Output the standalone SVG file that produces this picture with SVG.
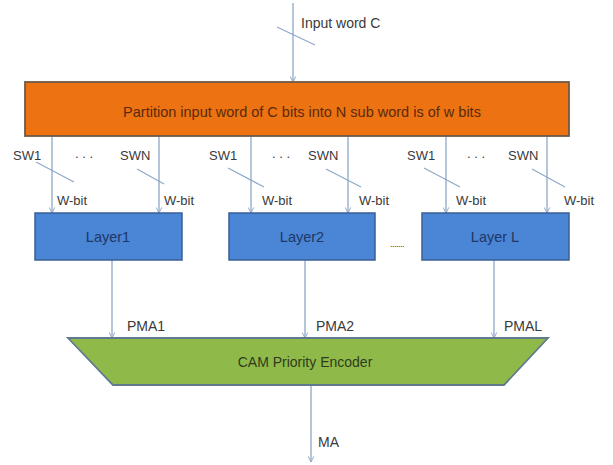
<svg xmlns="http://www.w3.org/2000/svg" width="613" height="465" viewBox="0 0 613 465">
<defs>
<marker id="ah" viewBox="0 0 10 10" refX="9" refY="5" markerWidth="7" markerHeight="7" orient="auto" markerUnits="userSpaceOnUse">
<path d="M1,1 L9,5 L1,9" fill="none" stroke="#8fa8c6" stroke-width="1.4"/>
</marker>
<style>
text{font-family:"Liberation Sans","Open Sans",Arial,sans-serif;font-size:13px;fill:#3a3a3a}
.big{font-size:14px}
.ln{stroke:#8fa8c6;stroke-width:1.3;fill:none}
.sl{stroke:#8fa8c6;stroke-width:1.2;fill:none}
.layer{fill:#4a85d6;stroke:#3a5f94;stroke-width:1.5}
.lt{fill:#1f3864;font-size:14.5px;text-anchor:middle}
</style>
</defs>
<rect width="613" height="465" fill="#ffffff"/>
<g id="connectors">
<line class="ln" x1="293" y1="3" x2="293" y2="82" marker-end="url(#ah)"/>
<line class="sl" x1="277" y1="27" x2="315" y2="45"/>
<line class="ln" x1="52" y1="136" x2="52" y2="213" marker-end="url(#ah)"/>
<line class="ln" x1="159" y1="136" x2="159" y2="213" marker-end="url(#ah)"/>
<line class="ln" x1="251" y1="136" x2="251" y2="213" marker-end="url(#ah)"/>
<line class="ln" x1="348" y1="136" x2="348" y2="213" marker-end="url(#ah)"/>
<line class="ln" x1="446" y1="136" x2="446" y2="213" marker-end="url(#ah)"/>
<line class="ln" x1="547" y1="136" x2="547" y2="213" marker-end="url(#ah)"/>
<line class="sl" x1="36" y1="162" x2="74" y2="182"/>
<line class="sl" x1="137" y1="169" x2="164" y2="184"/>
<line class="sl" x1="228" y1="168" x2="264" y2="187"/>
<line class="sl" x1="326" y1="169" x2="361" y2="187"/>
<line class="sl" x1="424" y1="168" x2="460" y2="187"/>
<line class="sl" x1="532" y1="169" x2="565" y2="187"/>
<line class="ln" x1="112" y1="260" x2="112" y2="338" marker-end="url(#ah)"/>
<line class="ln" x1="305" y1="260" x2="305" y2="338" marker-end="url(#ah)"/>
<line class="ln" x1="494" y1="260" x2="494" y2="338" marker-end="url(#ah)"/>
<line class="ln" x1="311" y1="385" x2="311" y2="462" marker-end="url(#ah)"/>
</g>
<g id="partition">
<rect x="25" y="82" width="544" height="54" fill="#ec7212" stroke="#6e5a4a" stroke-width="1.8"/>
<text x="302" y="117" text-anchor="middle" style="fill:#5a2a0a;font-size:14.5px">Partition input word of C bits into N sub word is of w bits</text>
</g>
<g id="labels">
<text class="big" x="301" y="28">Input word C</text>
<text x="13" y="160">SW1</text><text x="75" y="158">. . .</text><text x="120" y="160">SWN</text>
<text x="57" y="205">W-bit</text><text x="164" y="205">W-bit</text>
<text x="209" y="160">SW1</text><text x="272" y="158">. . .</text><text x="308" y="160">SWN</text>
<text x="262" y="205">W-bit</text><text x="359" y="205">W-bit</text>
<text x="407" y="160">SW1</text><text x="467" y="158">. . .</text><text x="508" y="160">SWN</text>
<text x="456" y="205">W-bit</text><text x="564" y="205">W-bit</text>
<text x="390" y="247" style="font-size:9px;letter-spacing:-0.5px">.......</text>
<text class="big" x="127" y="331">PMA1</text>
<text class="big" x="316" y="331">PMA2</text>
<text class="big" x="504" y="331">PMAL</text>
<text class="big" x="318" y="447">MA</text>
</g>
<g id="layer1">
<rect class="layer" x="35" y="213" width="147" height="47"/>
<text class="lt" x="108" y="242">Layer1</text>
</g>
<g id="layer2">
<rect class="layer" x="229" y="213" width="146" height="47"/>
<text class="lt" x="302" y="242">Layer2</text>
</g>
<g id="layerL">
<rect class="layer" x="422" y="213" width="147" height="47"/>
<text class="lt" x="495" y="242">Layer L</text>
</g>
<g id="encoder">
<polygon points="68,338 548,338 504,385 113,385" fill="#8fba4a" stroke="#5f7a8e" stroke-width="1.8"/>
<text x="305" y="367" text-anchor="middle" style="fill:#2f3b1c;font-size:14px">CAM Priority Encoder</text>
</g>
</svg>
